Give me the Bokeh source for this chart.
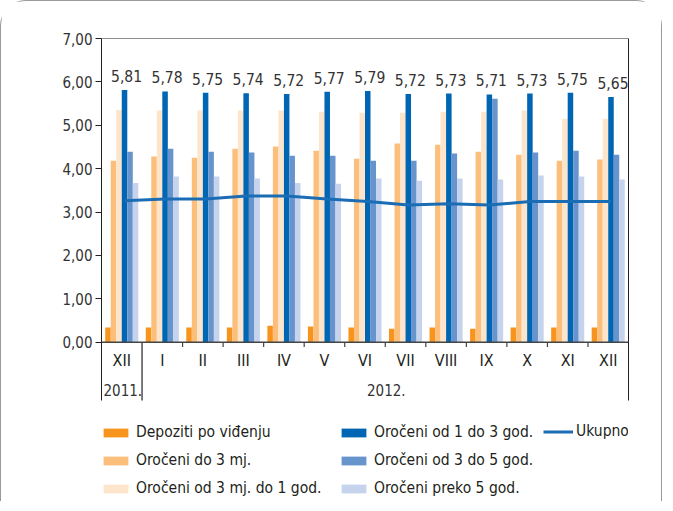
from bokeh.plotting import figure
from bokeh.models import (ColumnDataSource, Range1d, FixedTicker, Span, Legend, LegendItem,
                          LinearAxis)
from bokeh.transform import dodge
from bokeh.core.properties import value
from bokeh.embed import file_html
from bokeh.resources import INLINE

months = ["XII", "I", "II", "III", "IV", "V", "VI", "VII", "VIII", "IX", "X", "XI", "XII"]
years = ["2011.", "2012."]
year_spans = [(0, 1), (1, 13)]

depoziti = [0.34, 0.34, 0.34, 0.34, 0.38, 0.36, 0.34, 0.31, 0.34, 0.31, 0.34, 0.34, 0.34]
do_3mj = [4.18, 4.28, 4.25, 4.46, 4.51, 4.41, 4.23, 4.58, 4.55, 4.39, 4.32, 4.18, 4.21]
od3mj_1god = [5.35, 5.34, 5.34, 5.34, 5.34, 5.31, 5.29, 5.29, 5.31, 5.31, 5.34, 5.15, 5.15]
od1_3god = [5.81, 5.78, 5.75, 5.74, 5.72, 5.77, 5.79, 5.72, 5.73, 5.71, 5.73, 5.75, 5.65]
od3_5god = [4.39, 4.46, 4.39, 4.37, 4.30, 4.30, 4.18, 4.18, 4.35, 5.61, 4.37, 4.41, 4.32]
preko5god = [3.67, 3.82, 3.82, 3.77, 3.67, 3.65, 3.77, 3.72, 3.77, 3.75, 3.84, 3.82, 3.75]
ukupno = [3.26, 3.30, 3.30, 3.37, 3.37, 3.30, 3.24, 3.16, 3.19, 3.16, 3.24, 3.24, 3.24]

y_ticks = [0, 1, 2, 3, 4, 5, 6, 7]

series_names = ["Depoziti po viđenju", "Oročeni do 3 mj.", "Oročeni od 3 mj. do 1 god.",
                "Oročeni od 1 do 3 god.", "Oročeni od 3 do 5 god.", "Oročeni preko 5 god."]
series_vals = [depoziti, do_3mj, od3mj_1god, od1_3god, od3_5god, preko5god]
colors = ["#f7941d", "#fbbf7b", "#fde5cc", "#0066b3", "#6794cc", "#c6d3ec"]
line_name = "Ukupno"
line_color = "#1a6db5"

FONT = "DejaVu Sans Condensed"
TXT = "#231f20"
Y_MIN, Y_MAX, Y_BOTTOM = -1.347, 7, -3.65

def fmt(v):
    return f"{v:.2f}".replace(".", ",")

x_centers = [i + 0.5 for i in range(len(months))]
data = dict(x=x_centers, month=months, ukupno=ukupno,
            lbl=[fmt(v) for v in od1_3god])
for k, vals in enumerate(series_vals):
    data[f"s{k}"] = vals
src = ColumnDataSource(data)

p = figure(width=662, height=501, output_backend="svg", toolbar_location=None,
           x_range=Range1d(0, len(months)), y_range=Range1d(Y_BOTTOM, Y_MAX),
           x_axis_location=None,
           min_border_left=100, min_border_right=35, min_border_top=37, min_border_bottom=2)
p.styles = {"border-top": "1.5px solid #9a9a9a", "border-left": "1.5px solid #9a9a9a",
            "border-right": "1.5px solid #9a9a9a",
            "border-top-left-radius": "26px", "border-top-right-radius": "26px"}
p.outline_line_color = None
p.xgrid.visible = False
p.ygrid.visible = False
p.background_fill_color = "white"
p.border_fill_color = "white"

yax = p.yaxis[0]
yax.ticker = FixedTicker(ticks=y_ticks)
yax.bounds = (Y_MIN, Y_MAX)
yax.major_label_overrides = {t: fmt(t) for t in y_ticks}
yax.major_tick_in = 0
yax.major_tick_out = 6
yax.minor_tick_line_color = None
yax.axis_line_color = TXT
yax.major_tick_line_color = TXT
yax.major_label_text_font = FONT
yax.major_label_text_font_size = "15px"
yax.major_label_text_color = "#333333"
yax.major_label_standoff = 3

rax = LinearAxis(ticker=FixedTicker(ticks=[]), bounds=(Y_MIN, Y_MAX), axis_line_color=TXT,
                 major_tick_line_color=None, minor_tick_line_color=None,
                 major_label_text_font_size="0px")
p.add_layout(rax, "right")

bw = 0.136
offsets = [(k - 2.5) * bw for k in range(6)]
bar_renderers = []
for k in range(6):
    r = p.vbar(x=dodge("x", offsets[k], range=p.x_range), top=f"s{k}", width=bw,
               bottom=0, source=src, fill_color=colors[k], line_color=None)
    bar_renderers.append(r)

line_r = p.line(x=dodge("x", offsets[3], range=p.x_range), y="ukupno", source=src,
                line_color=line_color, line_width=3)

p.text(x=dodge("x", offsets[3], range=p.x_range), y="s3", text="lbl",
       source=src, text_align="center", text_baseline="alphabetic", x_offset=2, y_offset=-14,
       text_font=value(FONT), text_font_size="15.5px", text_color="#333333")

# frame lines
p.add_layout(Span(location=Y_MAX, dimension="width", line_color=TXT, line_width=1))
p.add_layout(Span(location=0, dimension="width", line_color="#444444", line_width=1.5))

# category ticks / separators
tick_x = [float(i) for i in range(1, len(months))]
sep_x = [float(s) for s, e in year_spans[1:]]
short_x = [x for x in tick_x if x not in sep_x]
p.segment(x0=short_x, x1=short_x, y0=[0] * len(short_x), y1=[-0.11] * len(short_x),
          line_color="#444444", line_width=1.2)
p.segment(x0=sep_x, x1=sep_x, y0=[0] * len(sep_x), y1=[Y_MIN] * len(sep_x),
          line_color=TXT, line_width=1.2)

p.text(x="x", y=-0.42, text="month", source=src, text_align="center",
       text_baseline="middle", text_font=value(FONT), text_font_size="16px", text_color=TXT)
p.text(x=[(s + e) / 2 for s, e in year_spans], y=[-1.1] * len(years), text=years,
       text_align="center", text_baseline="middle", text_font=value(FONT), x_offset=1,
       text_font_size="15px", text_color="#333333")

def mk_legend(items, loc, gw, standoff):
    lg = Legend(items=items, location=loc, orientation="vertical", padding=0, margin=0,
                spacing=8, glyph_width=gw, glyph_height=11, label_standoff=standoff,
                label_text_font=FONT, label_text_font_size="15.5px", label_text_color=TXT,
                label_height=20, border_line_color=None, background_fill_alpha=0)
    return lg

leg1 = mk_legend([LegendItem(label=series_names[k], renderers=[bar_renderers[k]]) for k in range(3)],
                 (-1, 2), 31, 5)
leg2 = mk_legend([LegendItem(label=series_names[k], renderers=[bar_renderers[k]]) for k in range(3, 6)],
                 (237, 2), 31, 5)
leg3 = mk_legend([LegendItem(label=line_name, renderers=[line_r])], (442, 59), 30, 3)
for lg in (leg1, leg2, leg3):
    p.add_layout(lg, "center")

open("out.html", "w").write(file_html(p, INLINE))
